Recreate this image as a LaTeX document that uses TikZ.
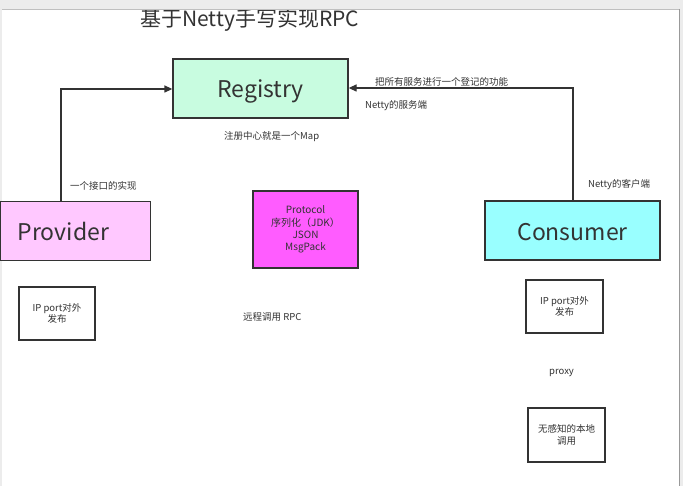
\documentclass[tikz,border=0pt]{standalone}
\usepackage{fontspec}
\setmainfont{Noto Sans CJK SC}
\usetikzlibrary{arrows.meta}
\definecolor{linec}{HTML}{333333}
\definecolor{regfill}{HTML}{C8FCE0}
\definecolor{provfill}{HTML}{FFC8FF}
\definecolor{consfill}{HTML}{99FFFF}
\definecolor{protofill}{HTML}{FF5CFF}
\definecolor{barc}{HTML}{ECECEC}
\definecolor{txt}{HTML}{333333}
\tikzset{
  bigbox/.style={draw=linec, line width=1.3pt, inner sep=0pt, font=\fontsize{23}{26}\selectfont, text=txt, text height=21pt, text depth=3pt},
  smallbox/.style={draw=linec, line width=1.2pt, inner sep=0pt, align=center, font=\fontsize{9.5}{11.5}\selectfont, text=txt},
  lbl/.style={inner sep=0pt, font=\fontsize{9.5}{11}\selectfont, text=txt, anchor=west},
  conn/.style={draw=linec, line width=1.3pt, -{Triangle[length=8pt,width=7pt]}}
}
\begin{document}
\begin{tikzpicture}[x=1pt,y=-1pt]
\useasboundingbox (0,0) rectangle (683,486);
\fill[white] (0,0) rectangle (683,486);
% title
\node[inner sep=0pt, anchor=base west, font=\fontsize{21}{24}\selectfont, text=txt] (title) at (140,27) {基于Netty手写实现RPC};
% window chrome
\fill[barc] (0,0) rectangle (683,9);
\draw[black!25, line width=0.8pt] (0,9) -- (683,9);
\fill[barc] (0,9) rectangle (2,486);
\fill[barc] (679,9) rectangle (683,486);
\draw[black!40, line width=0.6pt] (679,9) -- (679,486);
% boxes
\node[bigbox, fill=regfill, minimum width=175pt, minimum height=59pt] (reg) at (260.5,88.5) {Registry};
\node[bigbox, fill=provfill, minimum width=150pt, minimum height=59pt, anchor=north west, text width=140pt, align=left, text height=22pt] (prov) at (0,201) {\hspace*{12pt}Provider};
\node[bigbox, fill=consfill, minimum width=175pt, minimum height=59pt, text height=24pt] (cons) at (572.5,230.5) {Consumer};
\node[smallbox, fill=protofill, minimum width=105pt, minimum height=77pt, font=\fontsize{10}{12.3}\selectfont] (proto) at (305.5,229.5) {Protocol\\序列化（JDK）\\JSON\\MsgPack};
\node[smallbox, minimum width=76pt, minimum height=53pt] (ipl) at (57,313.5) {IP port对外\\发布};
\node[smallbox, minimum width=77pt, minimum height=53pt] (ipr) at (564.5,306.5) {IP port对外\\发布};
\node[smallbox, minimum width=77pt, minimum height=54pt] (local) at (566.5,435) {无感知的本地\\调用};
% connectors
\coordinate (pc) at (61,89);
\coordinate (cc) at (573,88);
\draw[conn] (prov.north -| pc) -- (pc) -- (reg.west |- pc);
\draw[conn] (cons.north -| cc) -- (cc) -- (reg.east |- cc);
% labels
\node[lbl] (l1) at (70,186) {一个接口的实现};
\node[lbl] (l2) at (375,82) {把所有服务进行一个登记的功能};
\node[lbl] (l3) at (365,106) {Netty的服务端};
\node[lbl] (l4) at (224,137) {注册中心就是一个Map};
\node[lbl] (l5) at (588,185) {Netty的客户端};
\node[lbl] (l6) at (243,317) {远程调用 RPC};
\node[lbl] (l7) at (549,373) {proxy};
\end{tikzpicture}
\end{document}
